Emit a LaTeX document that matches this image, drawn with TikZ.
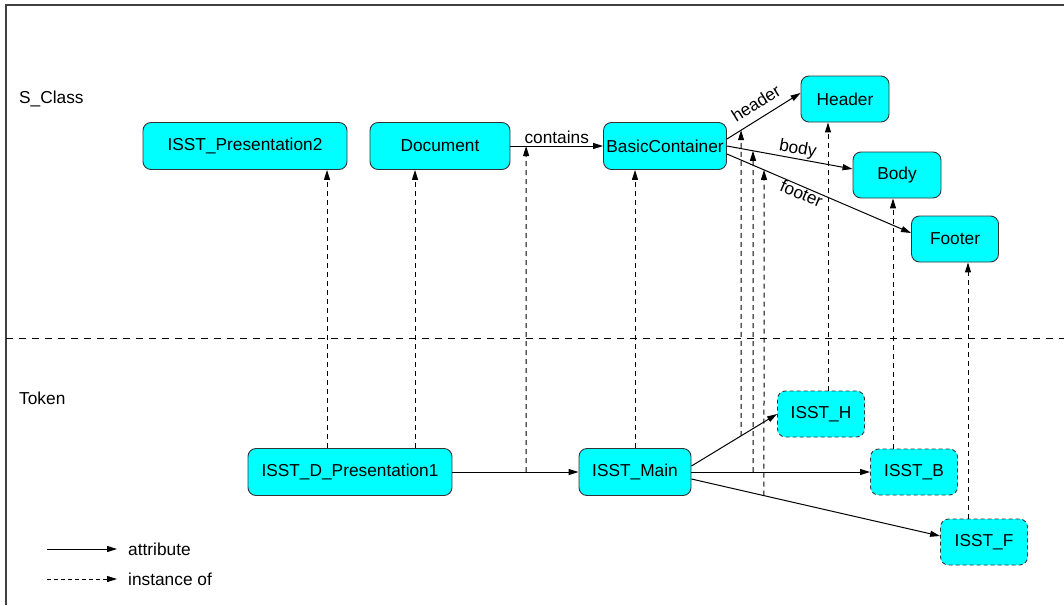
\documentclass[tikz,border=0pt]{standalone}
\usepackage{fontspec}
\setmainfont{Liberation Sans}
\usetikzlibrary{arrows.meta}
\definecolor{aqua}{RGB}{0,255,255}

\begin{document}
\begin{tikzpicture}[x=1pt, y=-1pt, >={Triangle[length=10pt,width=6pt]}, font=\fontsize{17.3pt}{20pt}\selectfont]
	\tikzstyle{box} = [draw=black!80, fill=aqua, rounded corners=8pt, line width=0.9pt, minimum height=47pt, inner sep=0pt]
	\tikzstyle{tok} = [box, minimum width=87pt, minimum height=46pt, dash pattern=on 4pt off 3pt]
	\tikzstyle{attr} = [->, line width=1pt]
	\tikzstyle{inst} = [->, line width=1pt, dash pattern=on 5pt off 4pt]

	\useasboundingbox (0,0) rectangle (1064,605);
	\draw[line width=1.3pt, black!75] (6,605) -- (6,5) -- (1064,5);
	\draw[line width=1pt, dash pattern=on 7pt off 6pt] (6,338) -- (1064,338);

	% S_Class level
	\node[anchor=west, inner sep=0pt] (sclass) at (19,99) {S\_Class};
	\node[box, minimum width=204pt] (p2) at (245,146) {ISST\_Presentation2};
	\node[box, minimum width=140pt] (doc) at (440,146) {Document};
	\node[box, minimum width=123pt] (bc) at (665,146) {BasicContainer};
	\node[box, minimum width=88pt, minimum height=46pt] (hd) at (845,99) {Header};
	\node[box, minimum width=88pt, minimum height=46pt] (bd) at (897,175) {Body};
	\node[box, minimum width=87pt, minimum height=46pt] (ft) at (955,239) {Footer};

	% Token level
	\node[anchor=west, inner sep=0pt] (token) at (19,398) {Token};
	\node[box, minimum width=204pt] (dp1) at (350,472) {ISST\_D\_Presentation1};
	\node[box, minimum width=112pt] (mn) at (635,472) {ISST\_Main};
	\node[tok] (th) at (821,414) {ISST\_H};
	\node[tok] (tb) at (914,472) {ISST\_B};
	\node[tok] (tf) at (984,542) {ISST\_F};

	\coordinate (bch) at ([yshift=7pt]bc.east);
	\coordinate (bcf) at ([yshift=-8pt]bc.east);
	\coordinate (hdw) at ([yshift=6pt]hd.west);
	\coordinate (bdw) at ([yshift=6pt]bd.west);
	\coordinate (ftw) at ([yshift=6pt]ft.west);
	\coordinate (mnh) at ([yshift=6pt]mn.east);
	\coordinate (mnf) at ([yshift=-7pt]mn.east);
	\coordinate (tfw) at ([yshift=6pt]tf.west);

	\path[attr]
	(doc.east) edge node[above, inner sep=2pt] {contains} (bc.west)
	(bch) edge node[sloped, above, pos=0.5, inner sep=8pt] {header} (hdw)
	(bc.east) edge node[sloped, above, pos=0.55, inner sep=1pt] {body} (bdw)
	(bcf) edge node[sloped, below, pos=0.42, inner sep=0pt] {footer} (ftw)
	(dp1.east) edge (mn.west)
	(mnh) edge (th.west)
	(mn.east) edge (tb.west)
	(mnf) edge (tfw)
	;

	% instance of
	\foreach \a/\b/\s in {dp1/p2/-23, dp1/doc/65, mn/bc/0, th/hd/7, tb/bd/-21, tf/ft/-16}
		\draw[inst] ([xshift=\s pt]\a.north) -- ([xshift=\s pt]\a.north |- \b.south);
	\draw[inst] (intersection of dp1.east--mn.west and 526,0--526,600) -- (intersection of doc.east--bc.west and 526,0--526,600);
	\draw[inst] (intersection of mnh--th.west and 741,0--741,600) -- (intersection of bch--hdw and 741,0--741,600);
	\draw[inst] (intersection of mn.east--tb.west and 753,0--753,600) -- (intersection of bc.east--bdw and 753,0--753,600);
	\draw[inst] (intersection of mnf--tfw and 764,0--764,600) -- (intersection of bcf--ftw and 764,0--764,600);

	% legend
	\coordinate (la) at (47,549);
	\coordinate (li) at (47,579);
	\node[anchor=west, inner xsep=11pt, inner ysep=2pt] (latt) at (117,549) {attribute};
	\node[anchor=west, inner xsep=11pt, inner ysep=2pt] (linst) at (117,579) {instance of};
	\draw[attr] (la) -- (latt);
	\draw[inst, dash pattern=on 4pt off 3pt] (li) -- (linst);
\end{tikzpicture}
\end{document}
